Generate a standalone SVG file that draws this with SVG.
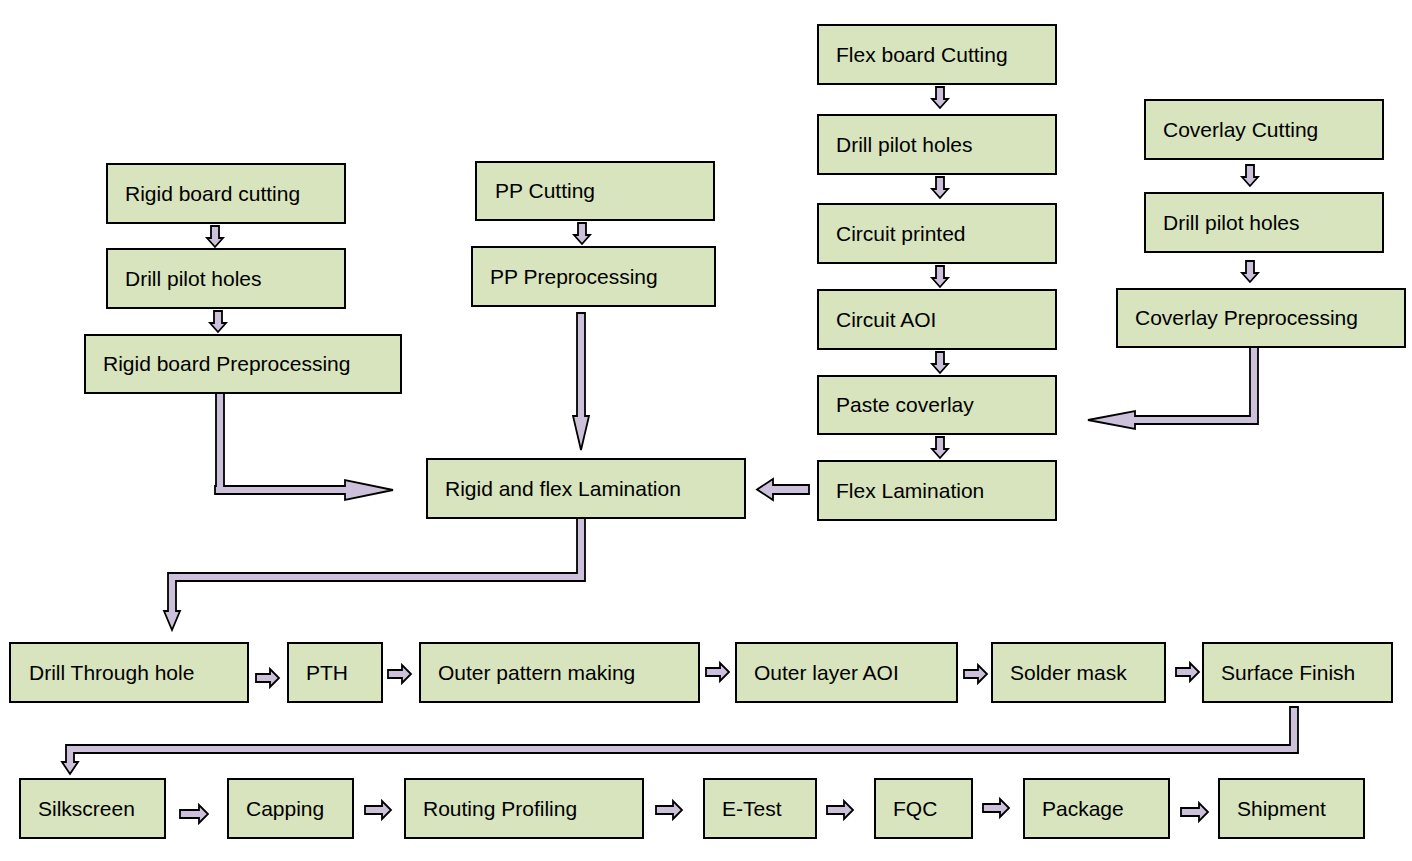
<svg xmlns="http://www.w3.org/2000/svg" width="1412" height="861" viewBox="0 0 1412 861">
<style>
.b{fill:#D7E4BD;stroke:#000;stroke-width:2}
.t{font-family:"Liberation Sans",Arial,sans-serif;font-size:21px;fill:#000}
.a{fill:#CCC0DA;stroke:#000;stroke-width:1.8;stroke-linejoin:miter}
</style>
<rect width="1412" height="861" fill="#fff"/>
<g id="n1"><rect class="b" x="107" y="164" width="238" height="59"/><text class="t" x="125" y="201">Rigid board cutting</text></g>
<g id="n2"><rect class="b" x="107" y="249" width="238" height="59"/><text class="t" x="125" y="286">Drill pilot holes</text></g>
<g id="n3"><rect class="b" x="85" y="335" width="316" height="58"/><text class="t" x="103" y="371">Rigid board Preprocessing</text></g>
<g id="n4"><rect class="b" x="476" y="162" width="238" height="58"/><text class="t" x="495" y="198">PP Cutting</text></g>
<g id="n5"><rect class="b" x="472" y="247" width="243" height="59"/><text class="t" x="490" y="284">PP Preprocessing</text></g>
<g id="n6"><rect class="b" x="818" y="25" width="238" height="59"/><text class="t" x="836" y="62">Flex board Cutting</text></g>
<g id="n7"><rect class="b" x="818" y="115" width="238" height="59"/><text class="t" x="836" y="152">Drill pilot holes</text></g>
<g id="n8"><rect class="b" x="818" y="204" width="238" height="59"/><text class="t" x="836" y="241">Circuit printed</text></g>
<g id="n9"><rect class="b" x="818" y="290" width="238" height="59"/><text class="t" x="836" y="327">Circuit AOI</text></g>
<g id="n10"><rect class="b" x="818" y="376" width="238" height="58"/><text class="t" x="836" y="412">Paste coverlay</text></g>
<g id="n11"><rect class="b" x="818" y="461" width="238" height="59"/><text class="t" x="836" y="498">Flex Lamination</text></g>
<g id="n12"><rect class="b" x="1145" y="100" width="238" height="59"/><text class="t" x="1163" y="137">Coverlay Cutting</text></g>
<g id="n13"><rect class="b" x="1145" y="193" width="238" height="59"/><text class="t" x="1163" y="230">Drill pilot holes</text></g>
<g id="n14"><rect class="b" x="1117" y="289" width="288" height="58"/><text class="t" x="1135" y="325">Coverlay Preprocessing</text></g>
<g id="n15"><rect class="b" x="427" y="459" width="318" height="59"/><text class="t" x="445" y="496">Rigid and flex Lamination</text></g>
<g id="n16"><rect class="b" x="10" y="643" width="238" height="59"/><text class="t" x="29" y="680">Drill Through hole</text></g>
<g id="n17"><rect class="b" x="288" y="643" width="94" height="59"/><text class="t" x="306" y="680">PTH</text></g>
<g id="n18"><rect class="b" x="420" y="643" width="279" height="59"/><text class="t" x="438" y="680">Outer pattern making</text></g>
<g id="n19"><rect class="b" x="736" y="643" width="221" height="59"/><text class="t" x="754" y="680">Outer layer AOI</text></g>
<g id="n20"><rect class="b" x="992" y="643" width="173" height="59"/><text class="t" x="1010" y="680">Solder mask</text></g>
<g id="n21"><rect class="b" x="1203" y="643" width="189" height="59"/><text class="t" x="1221" y="680">Surface Finish</text></g>
<g id="n22"><rect class="b" x="20" y="779" width="145" height="59"/><text class="t" x="38" y="816">Silkscreen</text></g>
<g id="n23"><rect class="b" x="228" y="779" width="125" height="59"/><text class="t" x="246" y="816">Capping</text></g>
<g id="n24"><rect class="b" x="405" y="779" width="238" height="59"/><text class="t" x="423" y="816">Routing Profiling</text></g>
<g id="n25"><rect class="b" x="704" y="779" width="112" height="59"/><text class="t" x="722" y="816">E-Test</text></g>
<g id="n26"><rect class="b" x="875" y="779" width="97" height="59"/><text class="t" x="893" y="816">FQC</text></g>
<g id="n27"><rect class="b" x="1024" y="779" width="145" height="59"/><text class="t" x="1042" y="816">Package</text></g>
<g id="n28"><rect class="b" x="1219" y="779" width="145" height="59"/><text class="t" x="1237" y="816">Shipment</text></g>
<g id="connectors">
<!-- small down arrows: x center, y0, y1 -->
<path class="a" d="M211,226 h8 v12 h4 l-8,9 l-8,-9 h4 z"/>
<path class="a" d="M214,311 h8 v12 h4 l-8,9 l-8,-9 h4 z"/>
<path class="a" d="M578,223 h8 v12 h4 l-8,9 l-8,-9 h4 z"/>
<path class="a" d="M936,87 h8 v12 h4 l-8,9 l-8,-9 h4 z"/>
<path class="a" d="M936,177 h8 v12 h4 l-8,9 l-8,-9 h4 z"/>
<path class="a" d="M936,266 h8 v12 h4 l-8,9 l-8,-9 h4 z"/>
<path class="a" d="M936,352 h8 v12 h4 l-8,9 l-8,-9 h4 z"/>
<path class="a" d="M936,437 h8 v12 h4 l-8,9 l-8,-9 h4 z"/>
<path class="a" d="M1246,165 h8 v12 h4 l-8,9 l-8,-9 h4 z"/>
<path class="a" d="M1246,261 h8 v12 h4 l-8,9 l-8,-9 h4 z"/>
<!-- PP big down -->
<path class="a" d="M577,313 h8 v103 h4 l-8,34 l-8,-34 h4 z"/>
<!-- Rigid L -->
<path class="a" d="M216,393 h8 v93 h121 v-6 l48,10 l-48,10 v-6 h-130 v-8 h1 z"/>
<!-- Coverlay L -->
<path class="a" d="M1250,347 h8 v77 h-123 v5 l-47,-9 l47,-9 v5 h115 z"/>
<!-- Flex Lam -> RF -->
<path class="a" d="M809,485 v9 h-36 v6 l-16,-10.5 l16,-10.5 v6 z"/>
<!-- RF down to Drill Through -->
<path class="a" d="M577,518 h8 v63 h-409 v30 h4 l-8,19 l-8,-19 h4 v-38 h409 z"/>
<!-- Surface Finish to Silkscreen -->
<path class="a" d="M1290,707 h8 v46 h-1224 v9 h4 l-8,12 l-8,-12 h4 v-17 h1224 z"/>
<!-- row 1 small right arrows -->
<path class="a" d="M256,674 h14 v-5 l9,9 l-9,9 v-5 h-14 z"/>
<path class="a" d="M388,670 h14 v-5 l9,9 l-9,9 v-5 h-14 z"/>
<path class="a" d="M706,668 h14 v-5 l9,9 l-9,9 v-5 h-14 z"/>
<path class="a" d="M964,670 h14 v-5 l9,9 l-9,9 v-5 h-14 z"/>
<path class="a" d="M1176,668 h14 v-5 l9,9 l-9,9 v-5 h-14 z"/>
<!-- row 2 -->
<path class="a" d="M180,810 h19 v-5 l9,9 l-9,9 v-5 h-19 z"/>
<path class="a" d="M365,806 h17 v-5 l9,9 l-9,9 v-5 h-17 z"/>
<path class="a" d="M656,806 h17 v-5 l9,9 l-9,9 v-5 h-17 z"/>
<path class="a" d="M827,806 h17 v-5 l9,9 l-9,9 v-5 h-17 z"/>
<path class="a" d="M983,804 h17 v-5 l9,9 l-9,9 v-5 h-17 z"/>
<path class="a" d="M1181,808 h18 v-5 l9,9 l-9,9 v-5 h-18 z"/>
</g>
</svg>
